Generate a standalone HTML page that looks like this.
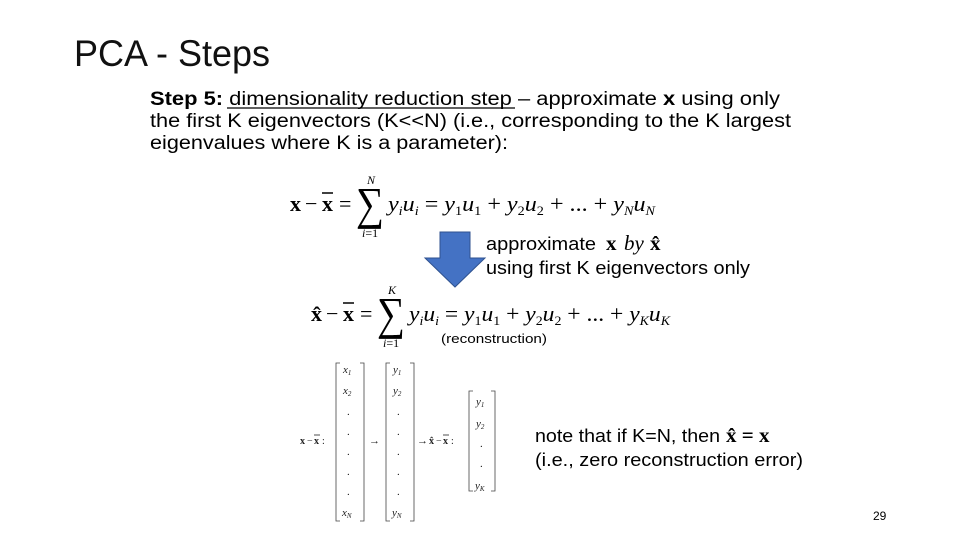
<!DOCTYPE html>
<html><head><meta charset="utf-8"><style>
html,body{margin:0;padding:0;background:#fff;}
svg{display:block;}
.s{font-family:"Liberation Sans",sans-serif;}
.m{font-family:"Liberation Serif",serif;}
</style></head><body>
<svg width="960" height="540" viewBox="0 0 960 540" xmlns="http://www.w3.org/2000/svg">
<text class="s" x="74" y="66" font-size="37" textLength="196" lengthAdjust="spacingAndGlyphs" fill="#111">PCA - Steps</text>
<text class="s" x="150" y="105" font-size="19" textLength="630" lengthAdjust="spacingAndGlyphs"><tspan font-weight="bold">Step 5:</tspan> dimensionality reduction step – approximate <tspan font-weight="bold">x</tspan> using only</text>
<line x1="227" y1="108" x2="515" y2="108" stroke="#000" stroke-width="1.2"/>
<text class="s" x="150" y="127" font-size="19" textLength="641" lengthAdjust="spacingAndGlyphs">the first K eigenvectors (K&lt;&lt;N) (i.e., corresponding to the K largest</text>
<text class="s" x="150" y="149" font-size="19" textLength="358" lengthAdjust="spacingAndGlyphs">eigenvalues where K is a parameter):</text>

<!-- Equation 1 -->
<text class="m" x="290" y="211" font-size="22" font-weight="bold">x</text>
<text class="m" x="305" y="211" font-size="22">−</text>
<text class="m" x="322" y="211" font-size="22" font-weight="bold">x</text>
<line x1="322" y1="193" x2="333" y2="193" stroke="#000" stroke-width="1.5"/>
<text class="m" x="339" y="211" font-size="22">=</text>
<text class="m" x="356" y="219" font-size="46" textLength="28" lengthAdjust="spacingAndGlyphs">∑</text>
<text class="m" x="367" y="184" font-size="12" font-style="italic">N</text>
<text class="m" x="362" y="237" font-size="12"><tspan font-style="italic">i</tspan>=1</text>
<text class="m" x="388" y="211" font-size="22" font-style="italic" textLength="267" lengthAdjust="spacingAndGlyphs">y<tspan font-size="13" dy="4">i</tspan><tspan dy="-4">u</tspan><tspan font-size="13" dy="4">i</tspan><tspan dy="-4" font-style="normal"> = </tspan>y<tspan font-size="13" dy="4" font-style="normal">1</tspan><tspan dy="-4">u</tspan><tspan font-size="13" dy="4" font-style="normal">1</tspan><tspan dy="-4" font-style="normal"> + </tspan>y<tspan font-size="13" dy="4" font-style="normal">2</tspan><tspan dy="-4">u</tspan><tspan font-size="13" dy="4" font-style="normal">2</tspan><tspan dy="-4" font-style="normal"> + ... + </tspan>y<tspan font-size="13" dy="4">N</tspan><tspan dy="-4">u</tspan><tspan font-size="13" dy="4">N</tspan></text>

<!-- Arrow -->
<polygon points="440,232 470,232 470,258 485,258 455,287 425,258 440,258" fill="#4472c4" stroke="#2f528f" stroke-width="1"/>
<text class="s" x="486" y="250" font-size="18" textLength="110" lengthAdjust="spacingAndGlyphs">approximate</text>
<text class="m" x="606" y="250" font-size="21" font-weight="bold">x</text>
<text class="m" x="624" y="250" font-size="21" font-style="italic">by</text>
<text class="m" x="650" y="250" font-size="21" font-weight="bold">x̂</text>
<text class="s" x="486" y="274" font-size="18" textLength="264" lengthAdjust="spacingAndGlyphs">using first K eigenvectors only</text>

<!-- Equation 2 -->
<text class="m" x="311" y="321" font-size="22" font-weight="bold">x̂</text>
<text class="m" x="326" y="321" font-size="22">−</text>
<text class="m" x="343" y="321" font-size="22" font-weight="bold">x</text>
<line x1="343" y1="303" x2="354" y2="303" stroke="#000" stroke-width="1.5"/>
<text class="m" x="360" y="321" font-size="22">=</text>
<text class="m" x="377" y="329" font-size="46" textLength="28" lengthAdjust="spacingAndGlyphs">∑</text>
<text class="m" x="388" y="294" font-size="12" font-style="italic">K</text>
<text class="m" x="383" y="347" font-size="12"><tspan font-style="italic">i</tspan>=1</text>
<text class="m" x="409" y="321" font-size="22" font-style="italic" textLength="261" lengthAdjust="spacingAndGlyphs">y<tspan font-size="13" dy="4">i</tspan><tspan dy="-4">u</tspan><tspan font-size="13" dy="4">i</tspan><tspan dy="-4" font-style="normal"> = </tspan>y<tspan font-size="13" dy="4" font-style="normal">1</tspan><tspan dy="-4">u</tspan><tspan font-size="13" dy="4" font-style="normal">1</tspan><tspan dy="-4" font-style="normal"> + </tspan>y<tspan font-size="13" dy="4" font-style="normal">2</tspan><tspan dy="-4">u</tspan><tspan font-size="13" dy="4" font-style="normal">2</tspan><tspan dy="-4" font-style="normal"> + ... + </tspan>y<tspan font-size="13" dy="4">K</tspan><tspan dy="-4">u</tspan><tspan font-size="13" dy="4">K</tspan></text>
<text class="s" x="441" y="343" font-size="13" textLength="106" lengthAdjust="spacingAndGlyphs">(reconstruction)</text>

<!-- Matrices -->
<g class="m" font-size="11" fill="#222">
<text x="300" y="444" font-weight="bold" font-size="10">x</text>
<text x="307" y="444" font-size="10">−</text>
<text x="314" y="444" font-weight="bold" font-size="10">x</text>
<line x1="314" y1="435" x2="320" y2="435" stroke="#222" stroke-width="0.8"/>
<text x="322" y="444" font-size="10">:</text>
<path d="M340,363 h-4 v158 h4 M360,363 h4 v158 h-4" fill="none" stroke="#444" stroke-width="0.8"/>
<text x="343" y="373" font-style="italic">x<tspan font-size="7" dy="2">1</tspan></text>
<text x="343" y="394" font-style="italic">x<tspan font-size="7" dy="2">2</tspan></text>
<text x="347" y="415">.</text><text x="347" y="435">.</text><text x="347" y="455">.</text><text x="347" y="475">.</text><text x="347" y="495">.</text>
<text x="342" y="516" font-style="italic">x<tspan font-size="7" dy="2">N</tspan></text>
<text x="369" y="444">→</text>
<path d="M390,363 h-4 v158 h4 M410,363 h4 v158 h-4" fill="none" stroke="#444" stroke-width="0.8"/>
<text x="393" y="373" font-style="italic">y<tspan font-size="7" dy="2">1</tspan></text>
<text x="393" y="394" font-style="italic">y<tspan font-size="7" dy="2">2</tspan></text>
<text x="397" y="415">.</text><text x="397" y="435">.</text><text x="397" y="455">.</text><text x="397" y="475">.</text><text x="397" y="495">.</text>
<text x="392" y="516" font-style="italic">y<tspan font-size="7" dy="2">N</tspan></text>
<text x="417" y="444">→</text>
<text x="429" y="444" font-weight="bold" font-size="10">x̂</text>
<text x="436" y="444" font-size="10">−</text>
<text x="443" y="444" font-weight="bold" font-size="10">x</text>
<line x1="443" y1="435" x2="449" y2="435" stroke="#222" stroke-width="0.8"/>
<text x="451" y="444" font-size="10">:</text>
<path d="M473,391 h-4 v100 h4 M491,391 h4 v100 h-4" fill="none" stroke="#444" stroke-width="0.8"/>
<text x="476" y="405" font-style="italic">y<tspan font-size="7" dy="2">1</tspan></text>
<text x="476" y="427" font-style="italic">y<tspan font-size="7" dy="2">2</tspan></text>
<text x="480" y="447">.</text><text x="480" y="467">.</text>
<text x="475" y="489" font-style="italic">y<tspan font-size="7" dy="2">K</tspan></text>
</g>

<text class="s" x="535" y="442" font-size="18" textLength="185" lengthAdjust="spacingAndGlyphs">note that if K=N, then</text>
<text class="m" x="726" y="442" font-size="21" font-weight="bold">x̂ = x</text>
<text class="s" x="535" y="466" font-size="18" textLength="268" lengthAdjust="spacingAndGlyphs">(i.e., zero reconstruction error)</text>

<text class="s" x="873" y="520" font-size="12">29</text>
</svg>
</body></html>
